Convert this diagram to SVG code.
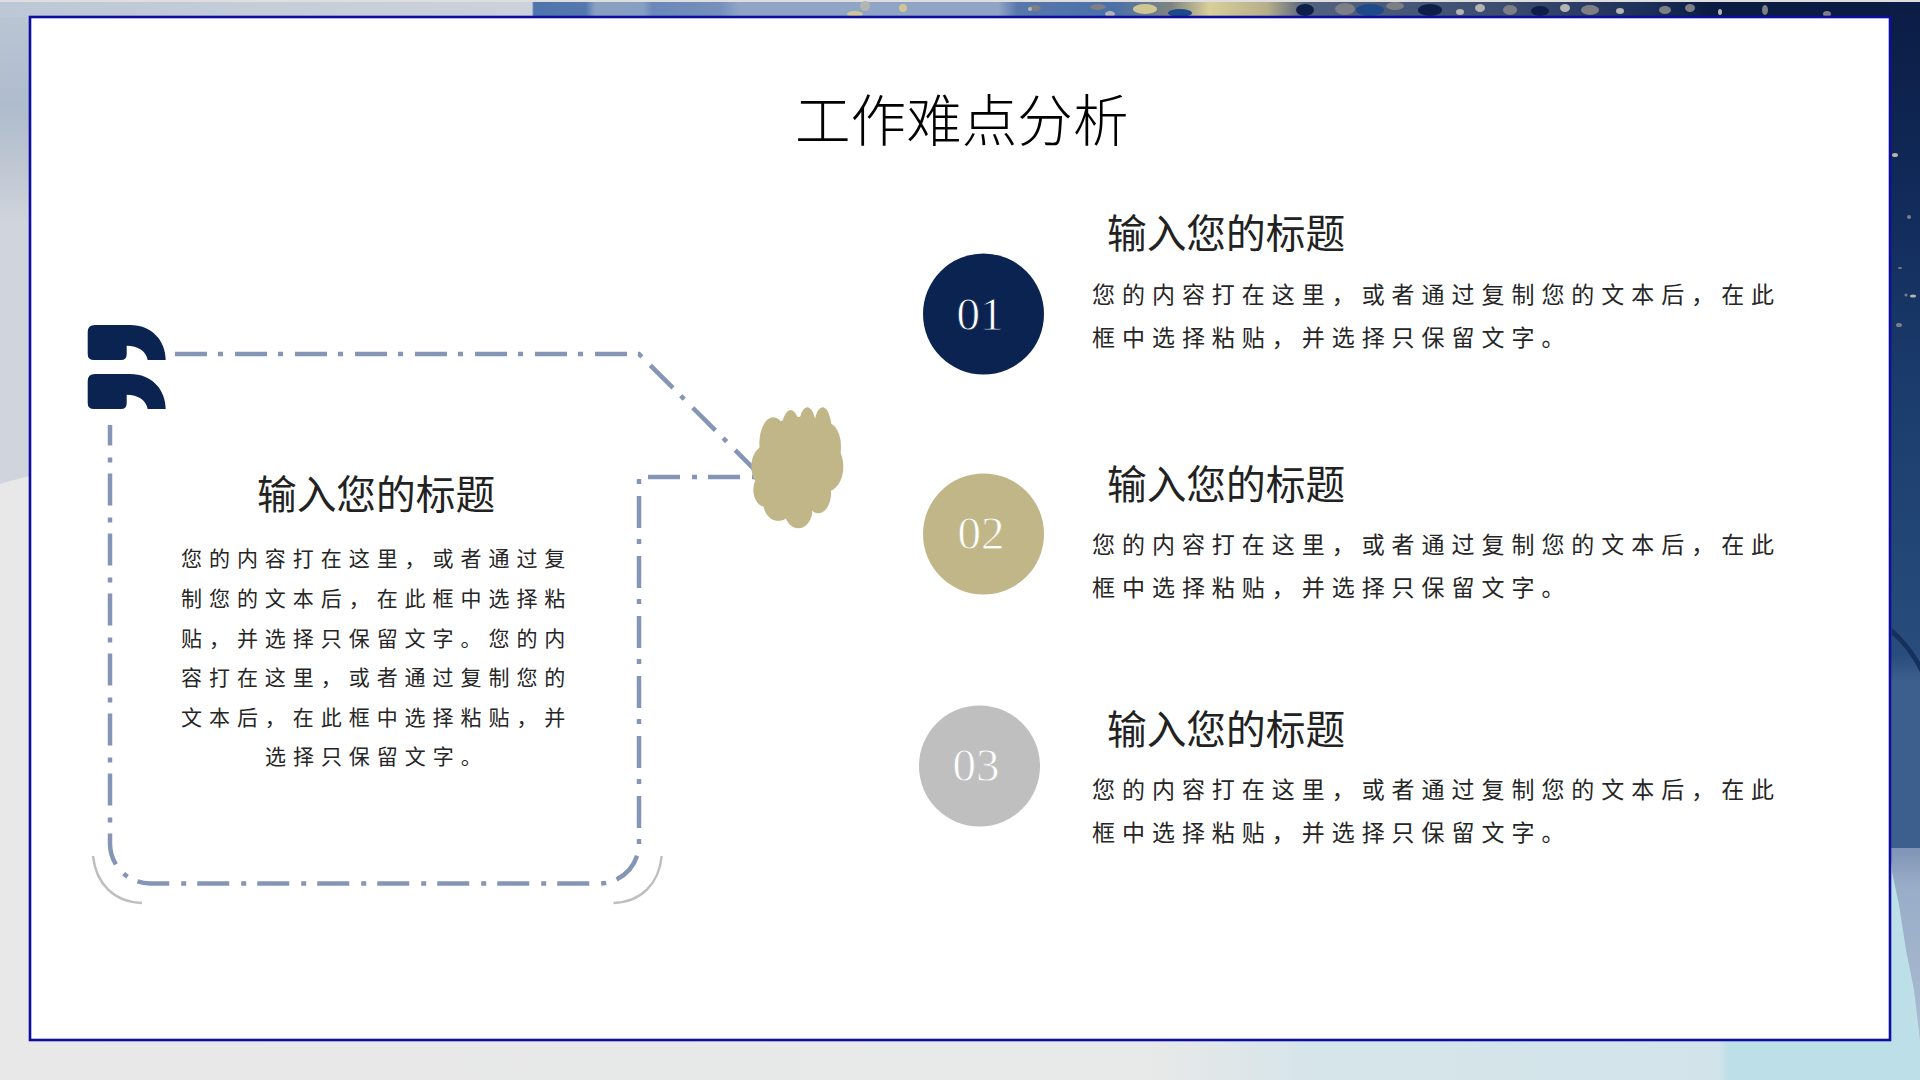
<svg xmlns="http://www.w3.org/2000/svg" width="1920" height="1080" viewBox="0 0 1920 1080">
<style>
text{font-family:"Noto Sans CJK SC","Noto Sans",sans-serif}
.title{font-size:55.6px;fill:#000;font-weight:300}
.head{font-size:39.7px;fill:#222}
.body{font-size:23px;fill:#262626;letter-spacing:6.96px}
.lbody{font-size:21px;fill:#262626;letter-spacing:6.95px}
.num{font-family:"Liberation Serif",serif;font-size:47px;fill:#fff;text-anchor:middle;stroke-width:.8}
.dash{fill:none;stroke:#8595b5;stroke-width:4.500;stroke-dasharray:32 11 5 12}
.arc{fill:none;stroke:#bfbfbf;stroke-width:2.500}
.blob ellipse{fill:#c0b687}
.g{fill:#7d7f84}.l{fill:#b4b5b2}.y{fill:#cfc696}.b{fill:#1f4a8a}.d{fill:#0d1f48}
</style>
<defs>
<linearGradient id="topg" x1="0" x2="1920" y1="0" y2="0" gradientUnits="userSpaceOnUse">
<stop offset="0" stop-color="#bcc8d6"/><stop offset=".277" stop-color="#ccd2da"/><stop offset=".278" stop-color="#4f74ab"/><stop offset=".305" stop-color="#5478ae"/><stop offset=".31" stop-color="#8aa0c0"/><stop offset=".335" stop-color="#86a0c2"/><stop offset=".34" stop-color="#6a88b8"/><stop offset=".375" stop-color="#7490bb"/><stop offset=".385" stop-color="#90a5c5"/><stop offset=".52" stop-color="#90a5c5"/><stop offset=".53" stop-color="#5878aa"/><stop offset=".58" stop-color="#4a70a8"/><stop offset=".61" stop-color="#7f8480"/><stop offset=".63" stop-color="#d8cf9a"/><stop offset=".66" stop-color="#b5ae8a"/><stop offset=".68" stop-color="#52627e"/><stop offset=".78" stop-color="#3d4d70"/><stop offset=".86" stop-color="#1b2e58"/><stop offset=".89" stop-color="#0b1c44"/><stop offset="1" stop-color="#0b1c44"/>
</linearGradient>
<linearGradient id="rightg" x1="0" x2="0" y1="0" y2="1">
<stop offset="0" stop-color="#0b1c44"/><stop offset=".25" stop-color="#122c5c"/><stop offset=".5" stop-color="#1c3f70"/><stop offset=".77" stop-color="#284c7c"/><stop offset=".8" stop-color="#3d5f8e"/><stop offset="1" stop-color="#3d5f8e"/>
</linearGradient>
<linearGradient id="leftg" x1="0" x2="0" y1="0" y2="1">
<stop offset="0" stop-color="#bcc7d5"/><stop offset=".22" stop-color="#afbccd"/><stop offset=".31" stop-color="#bac3d0"/><stop offset=".46" stop-color="#d0d4dc"/><stop offset="1" stop-color="#d0d4dc"/>
</linearGradient>
<linearGradient id="botg" x1="0" x2="1920" y1="0" y2="0" gradientUnits="userSpaceOnUse">
<stop offset="0" stop-color="#e8e8e8"/><stop offset=".6" stop-color="#e8e9e9"/><stop offset=".68" stop-color="#d6e5ea"/><stop offset=".895" stop-color="#d2e4ea"/><stop offset=".9" stop-color="#bde0e8"/><stop offset="1" stop-color="#bde0e8"/>
</linearGradient>
<linearGradient id="sliver" x1="0" x2="0" y1="0" y2="1">
<stop offset="0" stop-color="#7f94b6"/><stop offset=".2" stop-color="#9aadc8"/><stop offset="1" stop-color="#a9bcd0"/>
</linearGradient>
<path id="quote" d="M95 325H130C152 325 165.700 341 165.700 360H147.700C146 351 138 345.700 126.700 345.700V354Q126.700 360 121 360H94Q87.700 360 87.700 354V332Q87.700 325 95 325Z"/>
</defs>
<g id="background">
<rect width="1920" height="1080" fill="#e8e8e8"/>
<path fill="url(#leftg)" d="M0 0H30V476L22 478L10 481L0 484Z"/>
<rect x="0" y="1040" width="1890" height="40" fill="url(#botg)"/>
<rect x="1885" y="850" width="35" height="230" fill="#bde0e8"/>
<rect x="0" y="2" width="1920" height="15" fill="url(#topg)"/>
<rect x="0" y="0" width="1920" height="2" fill="#dedede"/>
<rect x="1890" y="2" width="30" height="848" fill="url(#rightg)"/>
<path fill="url(#sliver)" d="M1890 848H1920V1040L1914 990L1906 950L1899 905L1892 872Z"/>
<path fill="#16305c" d="M1892 635Q1908 648 1920 672V662Q1908 642 1892 628Z"/>
<g id="specks">
<ellipse class="y" cx="855" cy="14" rx="8" ry="3"/><ellipse class="l" cx="865" cy="6" rx="5" ry="5"/><ellipse class="y" cx="903" cy="8" rx="4" ry="4"/>
<ellipse class="g" cx="1035" cy="8" rx="6" ry="3"/><ellipse class="l" cx="1030" cy="9" rx="2" ry="2"/>
<ellipse class="g" cx="1098" cy="7" rx="8" ry="3"/><ellipse class="l" cx="1110" cy="14" rx="5" ry="3"/>
<ellipse class="y" cx="1145" cy="9" rx="12" ry="5"/><ellipse class="b" cx="1180" cy="13" rx="12" ry="4"/><ellipse class="d" cx="1305" cy="10" rx="9" ry="6"/>
<ellipse class="b" cx="1370" cy="10" rx="14" ry="6"/><ellipse class="g" cx="1345" cy="9" rx="10" ry="6"/><ellipse class="g" cx="1395" cy="6" rx="9" ry="4"/><ellipse class="d" cx="1430" cy="10" rx="12" ry="6"/><ellipse class="l" cx="1460" cy="12" rx="4" ry="3"/><ellipse class="l" cx="1480" cy="8" rx="5" ry="4"/><ellipse class="g" cx="1510" cy="10" rx="7" ry="5"/><ellipse class="d" cx="1540" cy="11" rx="9" ry="5"/><ellipse class="l" cx="1565" cy="8" rx="5" ry="4"/><ellipse class="g" cx="1590" cy="10" rx="9" ry="5"/><ellipse class="l" cx="1620" cy="11" rx="4" ry="3"/><ellipse class="g" cx="1665" cy="10" rx="6" ry="4"/><ellipse class="g" cx="1690" cy="8" rx="5" ry="4"/>
<ellipse class="l" cx="1720" cy="12" rx="2" ry="3"/><ellipse class="g" cx="1765" cy="10" rx="3" ry="5"/><ellipse class="g" cx="1827" cy="14" rx="4" ry="3"/>
<ellipse class="l" cx="1895" cy="155" rx="3" ry="2"/><ellipse class="g" cx="1909" cy="217" rx="2" ry="2"/><ellipse class="g" cx="1900" cy="268" rx="2" ry="1"/><ellipse class="l" cx="1913" cy="296" rx="3" ry="1.500"/><ellipse class="g" cx="1899" cy="325" rx="3" ry="2"/><ellipse class="g" cx="1906" cy="295" rx="1.500" ry="1.500"/>
</g>
</g>
<g id="panel"><rect x="30" y="17" width="1860" height="1023" fill="#fff" stroke="#0d0da0" stroke-width="2.600"/></g>
<text id="title" class="title" x="795" y="141">工作难点分析</text>
<g id="connectors">
<path class="dash" d="M175 354H639L760 475"/>
<path class="dash" d="M800 477H639V843A40 40 0 0 1 599 883.500H150A40 40 0 0 1 110 843V425"/>
<path class="arc" d="M93 856C96 884 114 902 142 903"/>
<path class="arc" d="M661.700 856C659 884 641 902 613.500 903"/>
</g>
<g id="quote-mark" fill="#0b2350"><use href="#quote"/><use href="#quote" y="49"/></g>
<g id="blob" class="blob" transform="translate(720 390) scale(.3333)">
<ellipse cx="160" cy="160" rx="42" ry="78"/><ellipse cx="212" cy="140" rx="30" ry="80"/><ellipse cx="262" cy="130" rx="28" ry="78"/><ellipse cx="308" cy="130" rx="28" ry="78"/><ellipse cx="325" cy="170" rx="38" ry="70"/><ellipse cx="320" cy="230" rx="50" ry="75"/><ellipse cx="295" cy="310" rx="38" ry="60"/><ellipse cx="140" cy="230" rx="46" ry="65"/><ellipse cx="135" cy="300" rx="35" ry="50"/><ellipse cx="175" cy="340" rx="45" ry="53"/><ellipse cx="235" cy="360" rx="42" ry="55"/><ellipse cx="235" cy="240" rx="105" ry="120"/><ellipse cx="240" cy="170" rx="110" ry="90"/>
</g>
<g id="left-card">
<text class="head" x="257" y="509">输入您的标题</text>
<text class="lbody" x="181" y="566">您的内容打在这里，或者通过复</text>
<text class="lbody" x="181" y="606">制您的文本后，在此框中选择粘</text>
<text class="lbody" x="181" y="645.500">贴，并选择只保留文字。您的内</text>
<text class="lbody" x="181" y="685">容打在这里，或者通过复制您的</text>
<text class="lbody" x="181" y="725">文本后，在此框中选择粘贴，并</text>
<text class="lbody" x="265" y="764">选择只保留文字。</text>
</g>
<g id="item-01">
<circle cx="983.500" cy="314" r="60.500" fill="#0b2350"/>
<text class="num" x="980" y="330" stroke="#0b2350">01</text>
<text class="head" x="1107" y="248">输入您的标题</text>
<text class="body" x="1092" y="302.500">您的内容打在这里，或者通过复制您的文本后，在此</text>
<text class="body" x="1092" y="345.500">框中选择粘贴，并选择只保留文字。</text>
</g>
<g id="item-02">
<circle cx="983.500" cy="534" r="60.500" fill="#c0b687"/>
<text class="num" x="981" y="549" stroke="#c0b687">02</text>
<text class="head" x="1107" y="498.500">输入您的标题</text>
<text class="body" x="1092" y="553">您的内容打在这里，或者通过复制您的文本后，在此</text>
<text class="body" x="1092" y="596">框中选择粘贴，并选择只保留文字。</text>
</g>
<g id="item-03">
<circle cx="979.500" cy="766" r="60.500" fill="#bfbfbf"/>
<text class="num" x="976" y="781" stroke="#bfbfbf">03</text>
<text class="head" x="1107" y="743.500">输入您的标题</text>
<text class="body" x="1092" y="798">您的内容打在这里，或者通过复制您的文本后，在此</text>
<text class="body" x="1092" y="841">框中选择粘贴，并选择只保留文字。</text>
</g>
</svg>
